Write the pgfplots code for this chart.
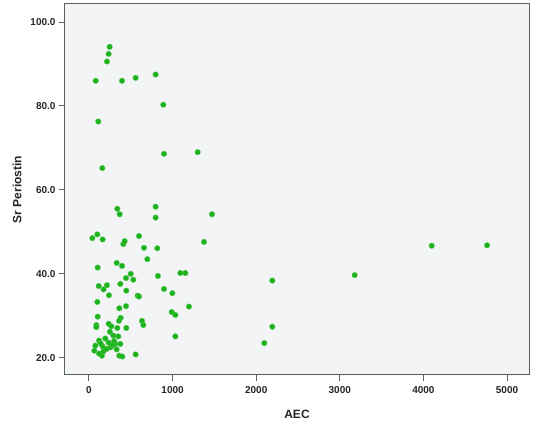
\documentclass[border=0pt]{standalone}
\usepackage{pgfplots}
\pgfplotsset{compat=1.18}
\usepackage{fontspec}
\setmainfont{Liberation Sans}
\definecolor{bgc}{HTML}{F2F4F5}
\definecolor{dotc}{HTML}{1DB31D}
\definecolor{axc}{HTML}{5A5F60}
\begin{document}
\begin{tikzpicture}
\begin{axis}[
  at={(0pt,0pt)}, anchor=south west,
  scale only axis,
  width=464pt, height=371pt,
  xmin=-287, xmax=5263,
  ymin=15.9, ymax=104.3,
  axis background/.style={fill=bgc},
  axis line style={axc, line width=1pt},
  xtick={0,1000,2000,3000,4000,5000},
  ytick={20,40,60,80,100},
  tick align=outside,
  major tick length=6pt,
  tick style={axc, line width=1pt},
  xtick pos=bottom, ytick pos=left,
  /pgf/number format/assume math mode=true,
  yticklabel style={/pgf/number format/fixed, /pgf/number format/fixed zerofill, /pgf/number format/precision=1},
  xticklabel style={/pgf/number format/fixed, /pgf/number format/1000 sep={}, yshift=-2pt},
  ticklabel style={font=\bfseries\fontsize{10}{12}\selectfont, text=black!85},
  xlabel={AEC}, ylabel={Sr Periostin},
  label style={font=\bfseries\fontsize{12}{14}\selectfont, text=black!85},
  xlabel style={at={(axis description cs:0.5,0)}, anchor=center, yshift=-39pt},
  ylabel style={at={(axis description cs:0,0.5)}, anchor=center, yshift=48pt},
  scaled x ticks=false,
]
\addplot[only marks, mark=*, mark size=2.8pt, mark options={fill=dotc, draw=dotc!75!white, line width=0.3pt}] coordinates {
(247,94.1) (235,92.4) (215,90.6) (80,86.0) (395,86.0) (558,86.7) (797,87.5)
(889,80.3) (111,76.3) (897,68.6) (1300,69.0) (159,65.2)
(339,55.5) (367,54.2) (797,56.0) (797,53.4) (1471,54.2)
(40,48.5) (100,49.4) (163,48.2) (598,49.0) (411,47.1) (427,47.8) (1376,47.6)
(658,46.2) (817,46.1) (698,43.5) (104,41.5) (331,42.6) (395,41.9)
(499,40.0) (443,39.0) (530,38.6) (825,39.5) (1092,40.2) (1152,40.2) (2193,38.4)
(116,37.1) (215,37.3) (175,36.3) (375,37.6) (239,34.9) (446,36.0) (582,34.8) (598,34.6)
(897,36.4) (997,35.4) (1196,32.2) (100,33.3) (363,31.8) (443,32.3) (989,30.9) (1033,30.2)
(104,29.8) (379,29.5) (359,28.8) (88,27.8) (88,27.3) (235,28.1) (267,27.5) (339,27.1)
(446,27.1) (634,28.8) (650,27.8) (2193,27.4) (1033,25.1) (291,25.3) (351,25.1)
(120,24.1) (235,23.6) (315,23.3) (375,23.3) (76,22.9) (163,22.7) (259,22.5)
(64,21.7) (171,21.5) (155,20.5) (211,22.1) (363,20.5) (399,20.3) (558,20.8) (2097,23.5)
(140,23.4) (195,24.6) (300,24.0) (330,22.0) (120,21.0) (250,26.2) (280,23.0)
(4099,46.7) (4761,46.8) (3178,39.7)
};
\end{axis}
\pgfresetboundingbox
\useasboundingbox (-65pt,-55pt) rectangle (472pt,375pt);
\end{tikzpicture}
\end{document}
